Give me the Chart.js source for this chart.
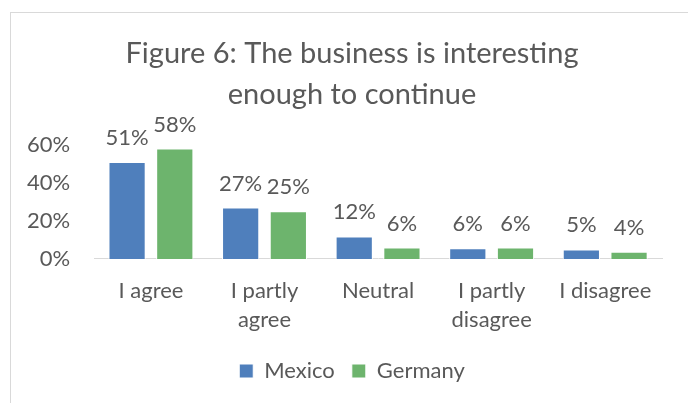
<!DOCTYPE html>
<html>
<head>
<meta charset="utf-8">
<script src="https://cdn.jsdelivr.net/npm/chart.js@4.4.1/dist/chart.umd.min.js"></script>
<style>
  html, body { margin: 0; padding: 0; background: #fff; overflow: hidden; }
  #frame {
    position: absolute; left: 10px; top: 12px;
    width: 690px; height: 400px;
    border-left: 1px solid #d9d9d9; border-top: 1px solid #d9d9d9;
  }
  #wrap { position: absolute; left: 0; top: 0; width: 682px; height: 395px; }
</style>
</head>
<body>
<div id="frame"><div id="wrap"><canvas id="chart"></canvas></div></div>
<script>
const categories = ['I agree', ['I partly', 'agree'], 'Neutral', ['I partly', 'disagree'], 'I disagree'];
const mexico = [0.51, 0.27, 0.118, 0.056, 0.05];
const germany = [0.58, 0.25, 0.06, 0.06, 0.038];
const yTicks = [0, 0.2, 0.4, 0.6];

const textColor = '#595959';
const fontFamily = 'Lato, "Open Sans", sans-serif';

// labels above each bar, like Excel data labels
const barLabels = {
  id: 'barLabels',
  afterDatasetsDraw(chart) {
    const ctx = chart.ctx;
    ctx.save();
    ctx.font = '22px ' + fontFamily;
    ctx.fillStyle = textColor;
    ctx.textAlign = 'center';
    ctx.textBaseline = 'alphabetic';
    chart.data.datasets.forEach((ds, i) => {
      chart.getDatasetMeta(i).data.forEach((bar, j) => {
        ctx.fillText(Math.round(ds.data[j] * 100) + '%', bar.x, bar.y - 17);
      });
    });
    ctx.restore();
  }
};

new Chart(document.getElementById('chart'), {
  type: 'bar',
  data: {
    labels: categories,
    datasets: [
      { label: 'Mexico', data: mexico, backgroundColor: '#4f7fbc', borderColor: '#ffffff', borderWidth: 1 },
      { label: 'Germany', data: germany, backgroundColor: '#6db46d', borderColor: '#ffffff', borderWidth: 1 }
    ]
  },
  options: {
    responsive: true,
    maintainAspectRatio: false,
    animation: false,
    layout: { padding: { left: 0, right: 0, top: 0, bottom: 16 } },
    datasets: { bar: { categoryPercentage: 0.84, barPercentage: 0.78 } },
    plugins: {
      title: {
        display: true,
        text: ['Figure 6: The business is interesting', 'enough to continue'],
        color: textColor,
        font: { family: fontFamily, size: 29, weight: 'normal', lineHeight: 1.41 },
        padding: { top: 20, bottom: 30 }
      },
      legend: {
        position: 'bottom',
        labels: {
          color: textColor,
          font: { family: fontFamily, size: 22 },
          boxWidth: 14, boxHeight: 14, padding: 17
        }
      },
      tooltip: { enabled: false }
    },
    scales: {
      x: {
        grid: { display: false },
        border: { color: '#d9d9d9', width: 1 },
        ticks: { color: textColor, font: { family: fontFamily, size: 22, lineHeight: 1.32 }, padding: 9, maxRotation: 0, autoSkip: false }
      },
      y: {
        min: 0, max: 0.6,
        grid: { display: false },
        border: { display: false },
        afterBuildTicks: axis => { axis.ticks = yTicks.map(v => ({ value: v })); },
        ticks: { color: textColor, font: { family: fontFamily, size: 22 }, padding: 16, callback: v => Math.round(v * 100) + '%' }
      },
      // empty right-hand axis, only keeps the white space right of the plot
      yRight: {
        position: 'right',
        grid: { display: false },
        border: { display: false },
        ticks: { display: false },
        afterFit: axis => { axis.width = 31; }
      }
    }
  },
  plugins: [barLabels]
});
</script>
</body>
</html>
